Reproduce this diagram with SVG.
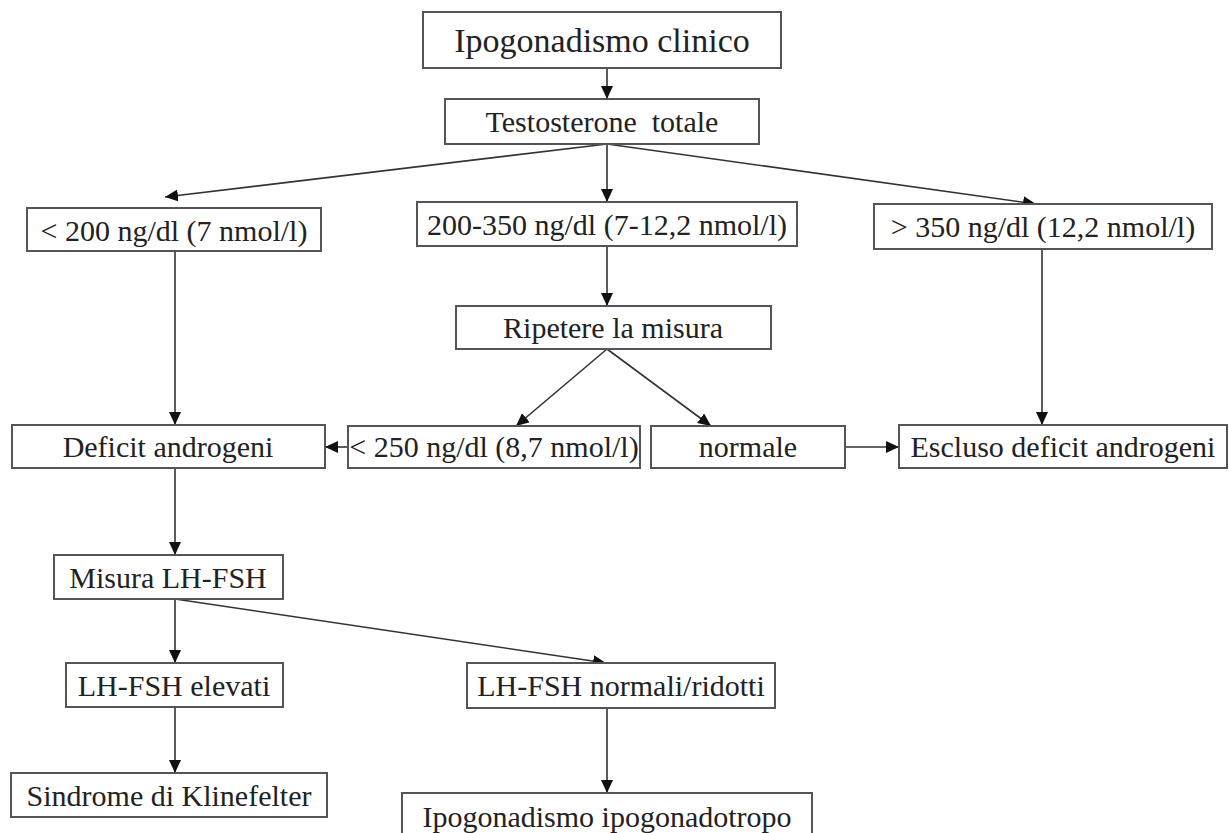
<svg xmlns="http://www.w3.org/2000/svg" width="1229" height="833" viewBox="0 0 1229 833">
<style>
.box{fill:#fff;stroke:#555;stroke-width:2}
.t{font-family:"Liberation Serif","Times New Roman",serif;font-size:30px;fill:#222;text-anchor:middle}
.big{font-size:34px}
.c{stroke:#333;stroke-width:1.6;fill:none;marker-end:url(#ah)}
</style>
<defs>
<marker id="ah" markerUnits="userSpaceOnUse" markerWidth="14" markerHeight="12" refX="13" refY="6" orient="auto">
<path d="M0,0 L13,6 L0,12 z" fill="#111"/>
</marker>
</defs>
<rect width="1229" height="833" fill="#fff"/>
<g id="connectors">
<line class="c" x1="607" y1="68" x2="607" y2="99"/>
<line class="c" x1="607" y1="144" x2="165" y2="197"/>
<line class="c" x1="607" y1="144" x2="607" y2="202"/>
<line class="c" x1="607" y1="144" x2="1036" y2="204"/>
<line class="c" x1="175" y1="251" x2="175" y2="425"/>
<line class="c" x1="607" y1="246" x2="607" y2="306"/>
<line class="c" x1="1042" y1="249" x2="1042" y2="425"/>
<line class="c" x1="607" y1="349" x2="516" y2="426"/>
<line class="c" x1="607" y1="349" x2="711" y2="426"/>
<line class="c" x1="348" y1="447" x2="325" y2="447"/>
<line class="c" x1="845" y1="447" x2="899" y2="447"/>
<line class="c" x1="175" y1="468" x2="175" y2="555"/>
<line class="c" x1="175" y1="599" x2="175" y2="663"/>
<line class="c" x1="175" y1="599" x2="606" y2="663"/>
<line class="c" x1="175" y1="707" x2="175" y2="773"/>
<line class="c" x1="607" y1="708" x2="607" y2="793"/>
</g>
<g id="n1"><rect class="box" x="423" y="12" width="358" height="56"/><text class="t big" x="602" y="52">Ipogonadismo clinico</text></g>
<g id="n2"><rect class="box" x="445" y="99" width="314" height="45"/><text class="t" x="602" y="132" xml:space="preserve">Testosterone&#160; totale</text></g>
<g id="n3"><rect class="box" x="27" y="208" width="294" height="43"/><text class="t" x="174" y="241">&lt; 200 ng/dl (7 nmol/l)</text></g>
<g id="n4"><rect class="box" x="417" y="202" width="380" height="44"/><text class="t" x="607" y="235">200-350 ng/dl (7-12,2 nmol/l)</text></g>
<g id="n5"><rect class="box" x="874" y="204" width="338" height="45"/><text class="t" x="1043" y="237">&gt; 350 ng/dl (12,2 nmol/l)</text></g>
<g id="n6"><rect class="box" x="456" y="306" width="315" height="43"/><text class="t" x="613" y="338">Ripetere la misura</text></g>
<g id="n7"><rect class="box" x="12" y="425" width="313" height="43"/><text class="t" x="168" y="457">Deficit androgeni</text></g>
<g id="n8"><rect class="box" x="348" y="426" width="292" height="42"/><text class="t" x="494" y="457">&lt; 250 ng/dl (8,7 nmol/l)</text></g>
<g id="n9"><rect class="box" x="651" y="426" width="194" height="42"/><text class="t" x="748" y="457">normale</text></g>
<g id="n10"><rect class="box" x="899" y="425" width="328" height="43"/><text class="t" x="1063" y="457">Escluso deficit androgeni</text></g>
<g id="n11"><rect class="box" x="54" y="555" width="229" height="44"/><text class="t" x="168" y="588">Misura LH-FSH</text></g>
<g id="n12"><rect class="box" x="66" y="663" width="217" height="44"/><text class="t" x="174" y="696">LH-FSH elevati</text></g>
<g id="n13"><rect class="box" x="467" y="663" width="308" height="45"/><text class="t" x="621" y="696">LH-FSH normali/ridotti</text></g>
<g id="n14"><rect class="box" x="11" y="773" width="316" height="44"/><text class="t" x="169" y="806">Sindrome di Klinefelter</text></g>
<g id="n15"><rect class="box" x="402" y="793" width="410" height="46"/><text class="t" x="607" y="827">Ipogonadismo ipogonadotropo</text></g>
</svg>
